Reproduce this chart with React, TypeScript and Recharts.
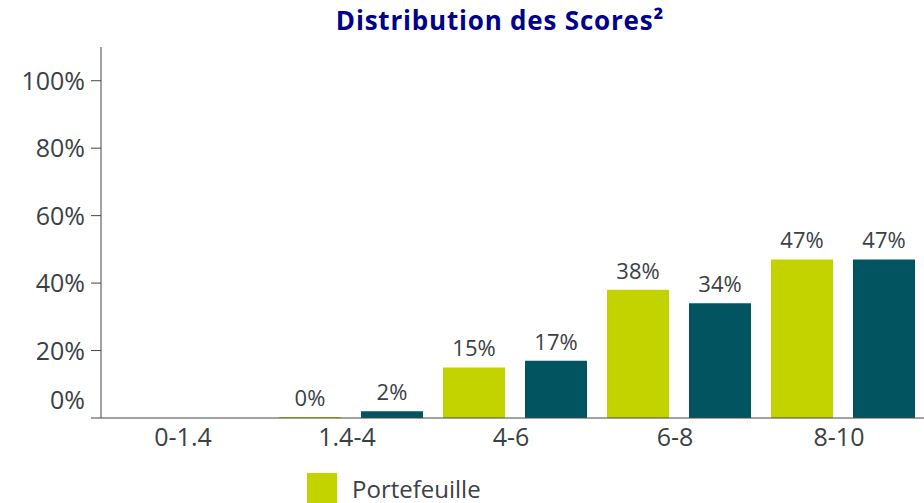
import { BarChart, Bar, XAxis, YAxis, Legend, LabelList } from 'recharts';

const categories = ['0-1.4', '1.4-4', '4-6', '6-8', '8-10'];
const portefeuille = [null, 0, 15, 38, 47];
const indice = [null, 2, 17, 34, 47];
const yTicks = [0, 20, 40, 60, 80, 100];

const data = categories.map((c, i) => ({
  name: c,
  portefeuille: portefeuille[i],
  indice: indice[i],
}));

const GREEN = '#c3d300';
const TEAL = '#025560';
const TEXT = '#3a4145';
const FONT = '"Open Sans", sans-serif';

// le label 0% est décalé vers le haut dans l'original
const YTick = (props: any) => {
  const { x, y, payload } = props;
  const shift = payload.value === 0 ? -18 : 0;
  return (
    <text x={x} y={y + shift} dy="0.36em" textAnchor="end" fontSize={25} fill={TEXT} fontFamily={FONT}>
      {payload.value}%
    </text>
  );
};

const XTick = (props: any) => {
  const { x, y, payload } = props;
  return (
    <text x={x - 4} y={y} dy="0.71em" textAnchor="middle" fontSize={25} fill={TEXT} fontFamily={FONT}>
      {payload.value}
    </text>
  );
};

const LegendBox = () => (
  <div style={{ fontFamily: FONT, fontSize: 24, color: TEXT }}>
    {[
      { label: 'Portefeuille', color: GREEN },
      { label: 'Indice', color: TEAL },
    ].map((it) => (
      <div key={it.label} style={{ display: 'flex', alignItems: 'center', height: 30, marginBottom: 10 }}>
        <span style={{ width: 30, height: 30, background: it.color, display: 'inline-block', marginRight: 15 }} />
        <span>{it.label}</span>
      </div>
    ))}
  </div>
);

export default function App() {
  return (
    <div style={{ position: 'absolute', left: 0, top: 0, width: 924, height: 503, overflow: 'hidden', background: '#fff' }}>
      <div
        style={{
          position: 'absolute', left: 0, width: 1000, top: 2, textAlign: 'center', lineHeight: '36px',
          fontFamily: FONT, fontWeight: 700, fontSize: 26, letterSpacing: 0.8, color: '#00008b',
        }}
      >
        Distribution des Scores²
      </div>
      <BarChart
        width={930}
        height={580}
        data={data}
        margin={{ top: 47, right: 5, left: 0, bottom: 0 }}
        barCategoryGap={10}
        barGap={20}
      >
        <XAxis
          dataKey="name"
          tickLine={false}
          tick={<XTick />}
          tickMargin={4}
          stroke="#444"
          padding={{ left: 4, right: 0 }}
          height={82}
        />
        <YAxis
          domain={[0, 110]}
          ticks={yTicks}
          tick={<YTick />}
          tickSize={10}
          tickMargin={6}
          width={101}
          stroke="#444"
          interval={0}
        />
        <Legend
          content={<LegendBox />}
          layout="vertical"
          wrapperStyle={{ position: 'absolute', left: 307, top: 473, width: 'auto', bottom: 'auto' }}
        />
        <Bar dataKey="portefeuille" name="Portefeuille" fill={GREEN} barSize={62} minPointSize={1} isAnimationActive={false}>
          <LabelList dataKey="portefeuille" position="top" offset={11} fontSize={22} fill={TEXT} fontFamily={FONT}
            formatter={(v: any) => (v == null ? '' : `${v}%`)} />
        </Bar>
        <Bar dataKey="indice" name="Indice" fill={TEAL} barSize={62} isAnimationActive={false}>
          <LabelList dataKey="indice" position="top" offset={11} fontSize={22} fill={TEXT} fontFamily={FONT}
            formatter={(v: any) => (v == null ? '' : `${v}%`)} />
        </Bar>
      </BarChart>
    </div>
  );
}
